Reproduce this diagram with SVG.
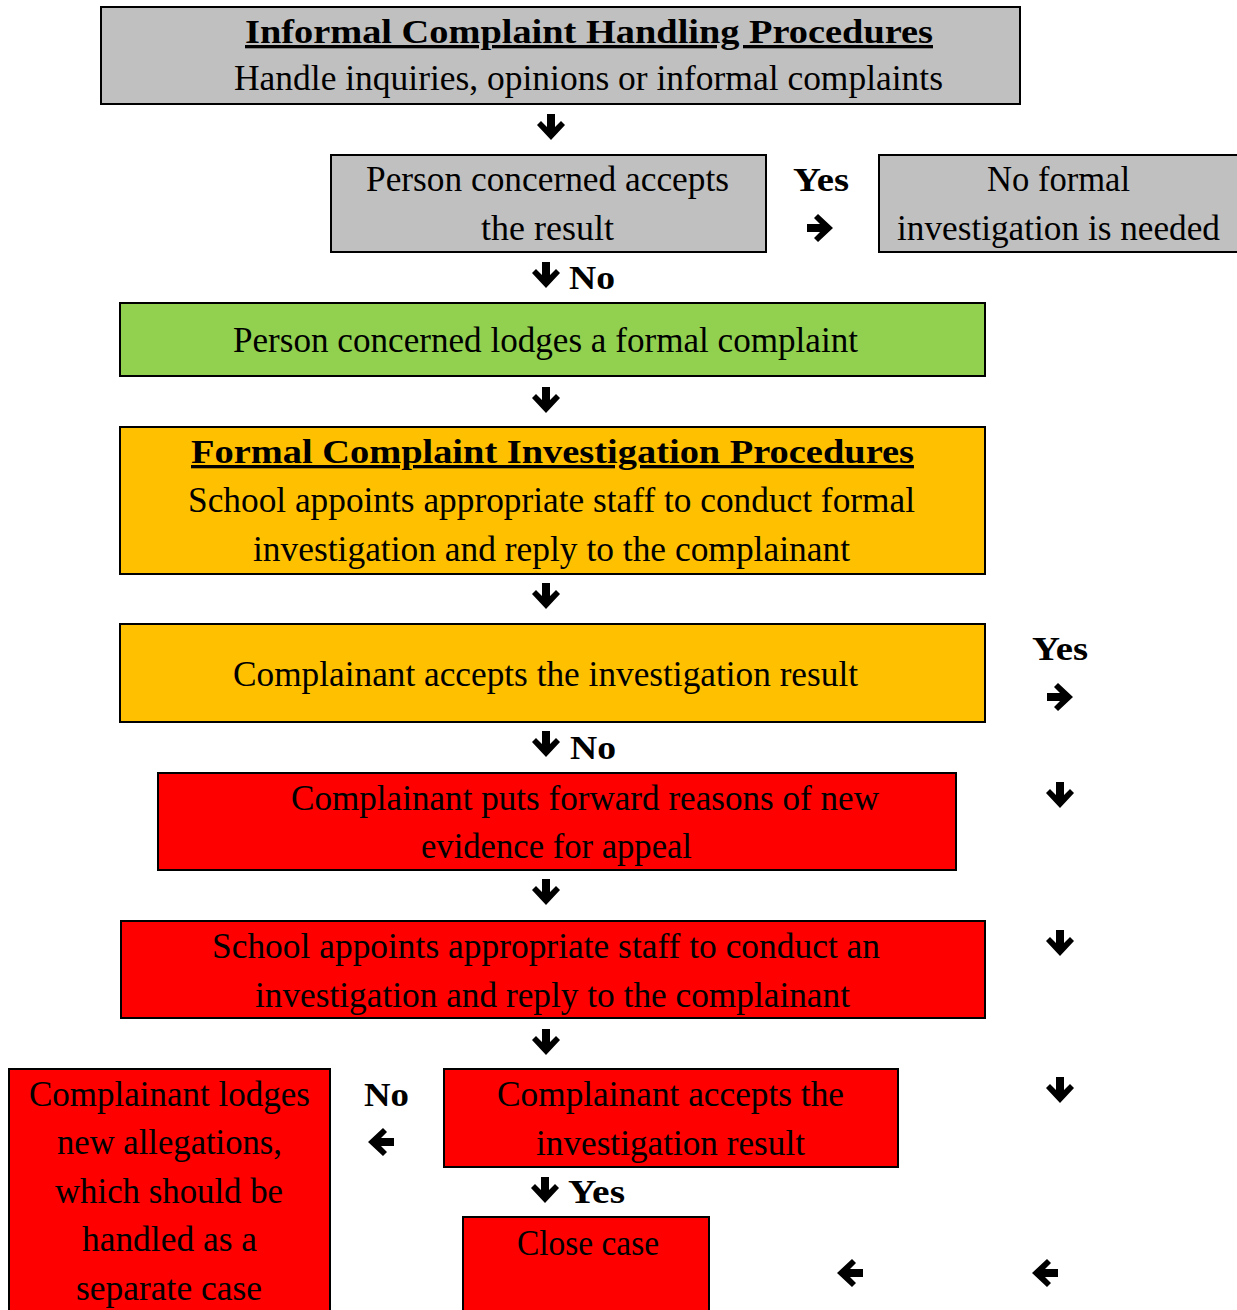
<svg xmlns="http://www.w3.org/2000/svg" xmlns:xlink="http://www.w3.org/1999/xlink" width="1237" height="1310" viewBox="0 0 1237 1310">
<style>
.box{stroke:#000;stroke-width:2}
.gray{fill:#c0c0c0}
.green{fill:#92d050}
.orange{fill:#ffc000}
.red{fill:#ff0000}
text{font-family:"Liberation Serif","Times New Roman",serif;font-size:35px;fill:#000}
.b{font-weight:bold;font-size:33px}
.u{text-decoration:underline}
</style>
<defs>
<path id="ad" d="M-4,-13 H4 V0 L10,-6 L14,-2 L0,13 L-14,-2 L-10,-6 L-4,0 Z" fill="#000"/>
</defs>
<rect width="1237" height="1310" fill="#fff"/>

<g id="connectors">
<use xlink:href="#ad" transform="translate(551,127)"/>
<use xlink:href="#ad" transform="translate(820,228) rotate(-90)"/>
<use xlink:href="#ad" transform="translate(546,275)"/>
<use xlink:href="#ad" transform="translate(546,400)"/>
<use xlink:href="#ad" transform="translate(546,596)"/>
<use xlink:href="#ad" transform="translate(1060,697) rotate(-90)"/>
<use xlink:href="#ad" transform="translate(546,744)"/>
<use xlink:href="#ad" transform="translate(1060,795)"/>
<use xlink:href="#ad" transform="translate(546,892)"/>
<use xlink:href="#ad" transform="translate(1060,943)"/>
<use xlink:href="#ad" transform="translate(546,1042)"/>
<use xlink:href="#ad" transform="translate(381,1142) rotate(90)"/>
<use xlink:href="#ad" transform="translate(1060,1090)"/>
<use xlink:href="#ad" transform="translate(545,1190)"/>
<use xlink:href="#ad" transform="translate(850,1273) rotate(90)"/>
<use xlink:href="#ad" transform="translate(1045,1273) rotate(90)"/>
<text class="b" x="793" y="191" textLength="56" lengthAdjust="spacingAndGlyphs">Yes</text>
<text class="b" x="569" y="289" textLength="46" lengthAdjust="spacingAndGlyphs">No</text>
<text class="b" x="1032" y="660" textLength="56" lengthAdjust="spacingAndGlyphs">Yes</text>
<text class="b" x="570" y="759" textLength="46" lengthAdjust="spacingAndGlyphs">No</text>
<text class="b" x="364" y="1106" textLength="45" lengthAdjust="spacingAndGlyphs">No</text>
<text class="b" x="568" y="1203" textLength="57" lengthAdjust="spacingAndGlyphs">Yes</text>
</g>

<g id="n1">
<rect class="box gray" x="101" y="7" width="919" height="97"/>
<text class="b u" x="245" y="43" textLength="688" lengthAdjust="spacingAndGlyphs">Informal Complaint Handling Procedures</text>
<text x="234" y="90" textLength="709" lengthAdjust="spacingAndGlyphs">Handle inquiries, opinions or informal complaints</text>
</g>

<g id="n2">
<rect class="box gray" x="331" y="155" width="435" height="97"/>
<text x="366" y="191" textLength="363" lengthAdjust="spacingAndGlyphs">Person concerned accepts</text>
<text x="481" y="240" textLength="133" lengthAdjust="spacingAndGlyphs">the result</text>
</g>

<g id="n3">
<rect class="box gray" x="879" y="155" width="359" height="97"/>
<text x="987" y="191" textLength="143" lengthAdjust="spacingAndGlyphs">No formal</text>
<text x="897" y="240" textLength="323" lengthAdjust="spacingAndGlyphs">investigation is needed</text>
</g>

<g id="n4">
<rect class="box green" x="120" y="303" width="865" height="73"/>
<text x="233" y="352" textLength="625" lengthAdjust="spacingAndGlyphs">Person concerned lodges a formal complaint</text>
</g>

<g id="n5">
<rect class="box orange" x="120" y="427" width="865" height="147"/>
<text class="b u" x="191" y="463" textLength="723" lengthAdjust="spacingAndGlyphs">Formal Complaint Investigation Procedures</text>
<text x="188" y="512" textLength="727" lengthAdjust="spacingAndGlyphs">School appoints appropriate staff to conduct formal</text>
<text x="253" y="561" textLength="597" lengthAdjust="spacingAndGlyphs">investigation and reply to the complainant</text>
</g>

<g id="n6">
<rect class="box orange" x="120" y="624" width="865" height="98"/>
<text x="233" y="686" textLength="625" lengthAdjust="spacingAndGlyphs">Complainant accepts the investigation result</text>
</g>

<g id="n7">
<rect class="box red" x="158" y="773" width="798" height="97"/>
<text x="291" y="810" textLength="588" lengthAdjust="spacingAndGlyphs">Complainant puts forward reasons of new</text>
<text x="421" y="858" textLength="271" lengthAdjust="spacingAndGlyphs">evidence for appeal</text>
</g>

<g id="n8">
<rect class="box red" x="121" y="921" width="864" height="97"/>
<text x="212" y="958" textLength="668" lengthAdjust="spacingAndGlyphs">School appoints appropriate staff to conduct an</text>
<text x="255" y="1007" textLength="595" lengthAdjust="spacingAndGlyphs">investigation and reply to the complainant</text>
</g>

<g id="n9">
<rect class="box red" x="9" y="1069" width="321" height="260"/>
<text x="29" y="1106" textLength="281" lengthAdjust="spacingAndGlyphs">Complainant lodges</text>
<text x="57" y="1154" textLength="225" lengthAdjust="spacingAndGlyphs">new allegations,</text>
<text x="55" y="1203" textLength="228" lengthAdjust="spacingAndGlyphs">which should be</text>
<text x="82" y="1251" textLength="175" lengthAdjust="spacingAndGlyphs">handled as a</text>
<text x="76" y="1300" textLength="186" lengthAdjust="spacingAndGlyphs">separate case</text>
</g>

<g id="n10">
<rect class="box red" x="444" y="1069" width="454" height="98"/>
<text x="497" y="1106" textLength="347" lengthAdjust="spacingAndGlyphs">Complainant accepts the</text>
<text x="536" y="1155" textLength="269" lengthAdjust="spacingAndGlyphs">investigation result</text>
</g>

<g id="n11">
<rect class="box red" x="463" y="1217" width="246" height="110"/>
<text x="517" y="1255" textLength="142" lengthAdjust="spacingAndGlyphs">Close case</text>
</g>
</svg>
